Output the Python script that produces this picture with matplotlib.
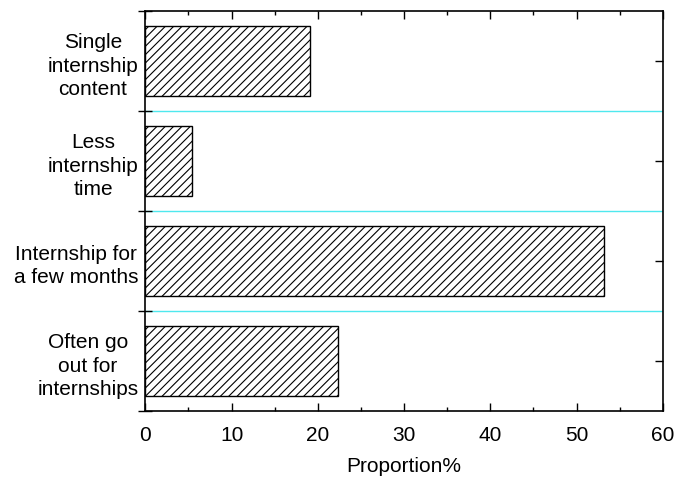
import matplotlib
matplotlib.use("Agg")
import matplotlib.pyplot as plt
from matplotlib.ticker import MultipleLocator, FixedLocator

plt.rcParams['font.family'] = ['Liberation Sans', 'DejaVu Sans']
plt.rcParams['hatch.linewidth'] = 0.8

# categories from bottom to top
labels = ["Often go\nout for\ninternships",
          "Internship for\na few months",
          "Less\ninternship\ntime",
          "Single\ninternship\ncontent"]
proportion = [22.3, 53.2, 5.4, 19.1]

pos = list(range(len(labels)))
bounds = [p + 0.5 for p in pos[:-1]]

fig = plt.figure(figsize=(6.76, 4.81), dpi=100)
ax = fig.add_axes([0.215, 0.1435, 0.7655, 0.8315])

ax.barh(pos, proportion, height=0.7, color='white', edgecolor='black',
        linewidth=1.0, hatch='////', zorder=2)

for b in bounds:
    ax.axhline(b, color='#4fe8ee', linewidth=1.0, zorder=1)

ax.set_xlim(0, 60)
ax.set_ylim(-0.5, len(labels) - 0.5)

ax.xaxis.set_major_locator(MultipleLocator(10))
ax.xaxis.set_minor_locator(MultipleLocator(5))
ax.tick_params(axis='x', which='major', direction='in', length=6, width=1,
               top=True, bottom=True, labelsize=15, pad=10)
ax.tick_params(axis='x', which='minor', direction='in', length=3, width=1,
               top=True, bottom=True)

# tick marks at the category boundaries, labels at the centres
ax.yaxis.set_major_locator(FixedLocator([-0.5] + bounds + [len(labels) - 0.5]))
ax.yaxis.set_minor_locator(FixedLocator(pos))
ax.yaxis.set_major_formatter(plt.NullFormatter())
ax.set_yticks(pos, labels, minor=True)
ax.tick_params(axis='y', which='major', direction='inout', length=10, width=1,
               left=True, right=False, labelleft=False)
ax.tick_params(axis='y', which='minor', direction='in', length=6, width=1,
               left=False, right=True, labelleft=True, labelsize=15, pad=5)
for t in ax.get_yticklabels(minor=True):
    t.set_multialignment('center')
    t.set_linespacing(1.3)

for s in ax.spines.values():
    s.set_linewidth(1.2)

ax.set_xlabel('Proportion%', fontsize=15, labelpad=9)

fig.savefig('out.png', dpi=100)
